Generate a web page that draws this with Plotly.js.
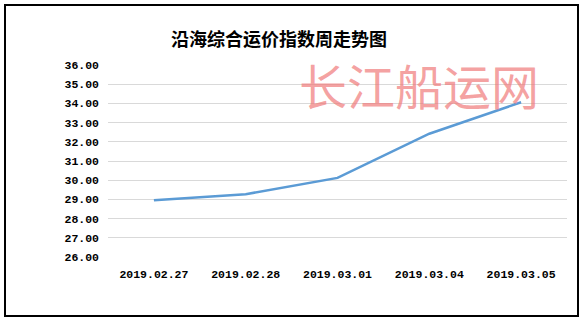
<!DOCTYPE html>
<html>
<head>
<meta charset="utf-8">
<script src="https://cdn.plot.ly/plotly-3.0.1.min.js"></script>
<style>
html,body{margin:0;padding:0;background:#fff;}
#chart{width:583px;height:323px;position:relative;}
#frame{position:absolute;left:4px;top:4px;width:571px;height:309px;border:2px solid #000;pointer-events:none;}
</style>
</head>
<body>
<div style="position:relative;width:583px;height:323px;">
<div id="chart"></div>
<div id="frame"></div>
</div>
<script>
const titleText = "沿海综合运价指数周走势图";
const watermark = "长江船运网";
const dates = ["2019.02.27", "2019.02.28", "2019.03.01", "2019.03.04", "2019.03.05"];
const values = [28.95, 29.27, 30.12, 32.42, 34.06];
const yTickVals = [26, 27, 28, 29, 30, 31, 32, 33, 34, 35, 36];
const yTickText = ["26.00", "27.00", "28.00", "29.00", "30.00", "31.00", "32.00", "33.00", "34.00", "35.00", "36.00"];

const tickFont = {family: "Liberation Mono, DejaVu Sans Mono, monospace", size: 11.5, color: "#000", weight: "bold"};

const trace = {
  x: dates,
  y: values,
  type: "scatter",
  mode: "lines",
  line: {color: "#5B9BD5", width: 2.5},
  hoverinfo: "skip"
};

const layout = {
  width: 583,
  height: 323,
  margin: {l: 108, r: 16, t: 65, b: 66},
  paper_bgcolor: "#fff",
  plot_bgcolor: "#fff",
  showlegend: false,
  title: {
    text: "<b>" + titleText + "</b>",
    font: {family: "Noto Sans CJK SC, sans-serif", size: 18, color: "#000"},
    x: 279 / 583, xanchor: "center",
    y: 1 - 40/323, yanchor: "middle"
  },
  xaxis: {
    type: "category",
    tickvals: dates,
    ticktext: dates,
    showgrid: false,
    showline: false,
    zeroline: false,
    ticks: "",
    ticklabelstandoff: 8,
    tickfont: tickFont,
    range: [-0.5, 4.5]
  },
  yaxis: {
    range: [26, 36],
    tickvals: yTickVals,
    ticktext: yTickText,
    showgrid: true,
    gridcolor: "#d9d9d9",
    gridwidth: 1,
    zeroline: false,
    showline: false,
    ticks: "",
    ticklabelstandoff: 8,
    tickfont: tickFont
  },
  annotations: [{
    text: watermark,
    xref: "paper", yref: "paper",
    x: (419 - 108) / 459, y: (257 - 84) / 192,
    xanchor: "center", yanchor: "middle",
    showarrow: false,
    font: {family: "Noto Sans CJK SC, sans-serif", size: 48, color: "rgba(240,120,120,0.7)"}
  }]
};

Plotly.newPlot("chart", [trace], layout, {displayModeBar: false, staticPlot: true});
</script>
</body>
</html>
